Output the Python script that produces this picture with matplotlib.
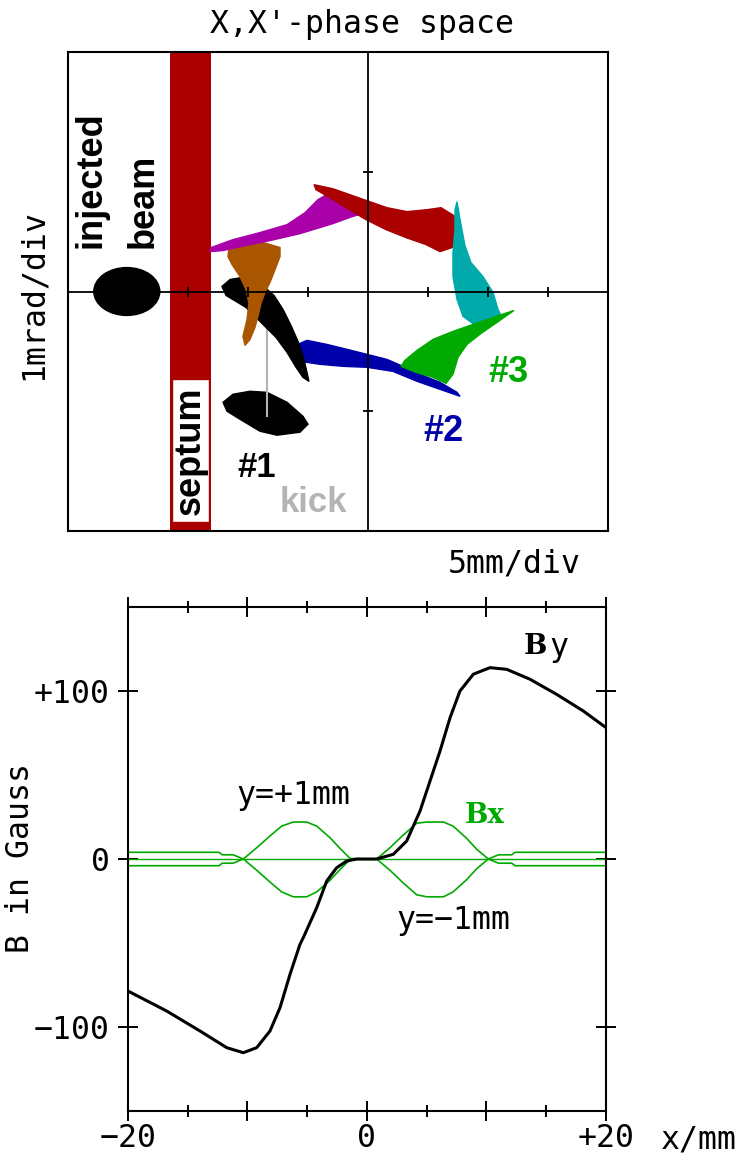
import numpy as np
import matplotlib.pyplot as plt
from matplotlib.patches import Polygon, Ellipse, Rectangle

W, H = 738, 1153

RED = "#aa0000"
MAGENTA = "#aa00aa"
BROWN = "#aa5500"
CYAN = "#00aaaa"
GREEN = "#00aa00"
BLUE = "#0000aa"
GRAY = "#b4b4b4"

# --- phase space: x in mm, x' in mrad ---
septum_x = (-16.5, -13.1)

injected_center = (-20.1, 0.0)
injected_size = (5.5, 0.40)

# turn 1 (before kick)
turn1_x = [-12.08, -11.25, -9.83, -8.42, -6.75, -5.42, -5.0, -5.67, -7.58, -9.0, -10.67, -11.75]
turn1_y = [-0.925, -0.858, -0.833, -0.842, -0.925, -1.042, -1.108, -1.175, -1.2, -1.167, -1.067, -1.0]

# after kick
kicked_x = [-12.17, -11.5, -10.5, -9.42, -8.58, -7.83, -7.08, -6.42, -5.83, -5.33, -4.92,
            -5.42, -6.0, -6.75, -7.67, -8.5, -9.33, -10.17, -11.0, -11.83]
kicked_y = [0.042, 0.1, 0.117, 0.083, 0.033, -0.033, -0.15, -0.283, -0.417, -0.567, -0.75,
            -0.717, -0.633, -0.508, -0.383, -0.3, -0.217, -0.133, -0.083, -0.033]

brown_x = [-11.58, -10.92, -9.83, -8.42, -7.33, -7.33, -7.75, -8.17, -8.58, -8.92, -9.17,
           -9.42, -9.83, -10.25, -10.42, -10.08, -9.92, -10.17, -10.67, -11.33, -11.67]
brown_y = [0.367, 0.417, 0.433, 0.4, 0.367, 0.292, 0.183, 0.075, -0.008, -0.1, -0.208,
           -0.3, -0.4, -0.45, -0.375, -0.233, -0.1, 0.017, 0.125, 0.225, 0.292]

magenta_x = [-13.08, -11.25, -9.0, -6.75, -5.25, -4.17, -3.17, -1.67, -0.5, -0.17,
             -1.33, -2.92, -5.67, -8.17, -10.25, -12.08, -13.17]
magenta_y = [0.367, 0.433, 0.492, 0.558, 0.658, 0.767, 0.825, 0.8, 0.733, 0.658,
             0.625, 0.567, 0.483, 0.425, 0.383, 0.342, 0.333]

red_x = [-4.5, -2.92, -1.5, -0.08, 1.58, 3.25, 4.92, 6.08, 7.17, 7.5, 7.25,
         6.0, 4.83, 3.17, 1.5, -0.17, -1.83, -3.17, -4.33]
red_y = [0.892, 0.858, 0.808, 0.758, 0.7, 0.667, 0.683, 0.7, 0.633, 0.517, 0.375,
         0.333, 0.392, 0.45, 0.517, 0.6, 0.7, 0.783, 0.85]

cyan_x = [7.42, 7.67, 8.08, 8.58, 9.58, 10.42, 10.83, 11.17, 10.17, 9.08, 7.92,
          7.42, 7.08, 7.08, 7.25, 7.25]
cyan_y = [0.75, 0.6, 0.383, 0.242, 0.125, -0.008, -0.15, -0.217, -0.292, -0.292, -0.208,
          -0.067, 0.125, 0.325, 0.517, 0.683]

green_x = [12.17, 10.42, 8.75, 7.08, 5.42, 4.08, 3.08, 2.75, 4.0, 5.42, 6.5,
           7.08, 7.5, 8.25, 9.42, 10.75]
green_y = [-0.158, -0.217, -0.275, -0.333, -0.4, -0.492, -0.575, -0.625, -0.675, -0.717, -0.767,
           -0.692, -0.55, -0.442, -0.35, -0.258]

blue_x = [-6.25, -5.08, -3.42, -1.75, -0.08, 1.58, 2.92, 4.33, 6.0, 7.42, 7.67,
          6.0, 4.08, 2.08, -0.08, -2.08, -4.0, -5.67, -6.17]
blue_y = [-0.458, -0.408, -0.442, -0.483, -0.525, -0.567, -0.625, -0.692, -0.758, -0.842, -0.875,
          -0.817, -0.75, -0.667, -0.633, -0.625, -0.608, -0.583, -0.525]

kick_x = [-8.42, -8.42]
kick_y = [-1.04, -0.15]

cross_xticks = [-20, -15, -10, -5, 5, 10, 15]
cross_yticks = [-1, 1]

# --- field: x in mm, B in Gauss ---
by_x = [-20, -16.76, -13.97, -11.74, -10.35, -9.23, -8.12, -7.28, -6.44, -5.61, -5.33,
        -4.21, -3.37, -2.54, -1.70, -0.86, 0.81, 2.2, 3.32, 4.44, 5.83, 6.11, 6.95,
        7.78, 8.90, 10.29, 11.69, 13.64, 15.87, 18.1, 20.0]
by_b = [-78.6, -90.5, -102.4, -112.3, -115.3, -112.3, -102.4, -88.5, -68.6, -50.8, -46.8,
        -29.0, -13.1, -5.2, -1.2, 0.0, 0.0, 2.8, 10.7, 28.6, 58.3, 64.3, 84.1,
        100.0, 110.0, 113.9, 112.9, 107.0, 98.0, 88.1, 78.2]

bx_x = [-20, -12.4, -12.1, -11.2, -10.35, -9.23, -8.12, -7.14, -6.17, -5.05, -4.21,
        -3.10, -2.26, -1.42, -0.5, 0.5, 0.81, 1.92, 3.04, 4.16, 5.0, 6.4, 7.2,
        8.34, 9.18, 10.15, 11.0, 12.1, 12.4, 20]
bx_plus = [-4, -4, -2.5, -2.5, 0, 6.7, 13.7, 19.6, 22, 22, 19.6,
           12.7, 6.3, 0.4, 0, 0, 0, 6.7, 14.3, 21.3, 22, 22, 19.6,
           12.3, 5.8, 0, -2.5, -2.5, -4, -4]
bx_minus = [4, 4, 2.5, 2.5, 0, -6.7, -13.7, -19.6, -22.5, -22.5, -19.6,
            -12.7, -6.3, -0.4, 0, 0, 0, -6.7, -14.3, -21.3, -22.5, -22.5, -19.6,
            -12.3, -5.8, 0, 2.5, 2.5, 4, 4]
bx0_x = [-20, 20]
bx0_b = [0, 0]

field_xticks = [-20, -10, 0, 10, 20]
field_xlabels = ["\u221220", "", "0", "", "+20"]
field_xminor = [-15, -5, 5, 15]
field_yticks = [-100, 0, 100]
field_ylabels = ["\u2212100", "0", "+100"]

MONO = 22.7
plt.rcParams["font.family"] = ["DejaVu Sans Mono"]

fig = plt.figure(figsize=(W / 100, H / 100), dpi=100)


def frac(px, py):
    return px / W, 1 - py / H


# phase space panel
ax1 = fig.add_axes([68 / W, 1 - 531 / H, 540 / W, 479 / H])
ax1.set_xlim(-25, 20)
ax1.set_ylim(-2, 2)
ax1.set_xticks([])
ax1.set_yticks([])
for s in ax1.spines.values():
    s.set_linewidth(1.5)

ax1.axvspan(*septum_x, color=RED, lw=0, zorder=1)
ax1.add_patch(Rectangle((-16.33, -1.925), 3.08, 1.192, fc="white", ec=RED, lw=1, zorder=2))
ax1.text(-14.79, -1.33, "septum", rotation=90, ha="center", va="center",
         fontsize=26, fontweight="bold", family="Liberation Sans", zorder=3)

ax1.add_patch(Ellipse(injected_center, *injected_size, fc="black", ec="black", lw=1, zorder=2.5))
ax1.add_patch(Polygon(np.column_stack([turn1_x, turn1_y]), closed=True,
                      fc="black", ec="black", lw=1, zorder=2.5))
ax1.plot(kick_x, kick_y, color=GRAY, lw=1.5, zorder=2.8)

bunches = [
    (blue_x, blue_y, BLUE),
    (kicked_x, kicked_y, "black"),
    (brown_x, brown_y, BROWN),
    (magenta_x, magenta_y, MAGENTA),
    (red_x, red_y, RED),
    (cyan_x, cyan_y, CYAN),
    (green_x, green_y, GREEN),
]
for i, (bx, by, c) in enumerate(bunches):
    ax1.add_patch(Polygon(np.column_stack([bx, by]), closed=True,
                          fc=c, ec=c, lw=1, zorder=3 + i * 0.01))

ax1.axhline(0, color="black", lw=1.3, zorder=6)
ax1.axvline(0, color="black", lw=1.3, zorder=6)
ax1.plot(cross_xticks, np.zeros(len(cross_xticks)), ls="none", marker="|",
         ms=7.5, mew=1.3, color="black", zorder=6)
ax1.plot(np.zeros(len(cross_yticks)), cross_yticks, ls="none", marker="_",
         ms=7.5, mew=1.3, color="black", zorder=6)

bold = dict(fontweight="bold", family="Liberation Sans", ha="left", va="baseline")
ax1.text(-22.33, 0.367, "injected", rotation=90, rotation_mode="anchor", fontsize=26, **bold)
ax1.text(-17.92, 0.367, "beam", rotation=90, rotation_mode="anchor", fontsize=26, **bold)
ax1.text(-10.92, -1.55, "#1", fontsize=25, color="black", **bold)
ax1.text(-7.33, -1.842, "kick", fontsize=25, color=GRAY, **bold)
ax1.text(4.58, -1.25, "#2", fontsize=26, color=BLUE, **bold)
ax1.text(10.0, -0.758, "#3", fontsize=26, color=GREEN, **bold)

fig.text(*frac(362, 33), "X,X'-phase space", ha="center", va="baseline", fontsize=MONO)
fig.text(*frac(33, 294), "1mrad/div", rotation=90, ha="center", va="center", fontsize=MONO)
fig.text(*frac(514, 573), "5mm/div", ha="center", va="baseline", fontsize=MONO)

# field panel
ax2 = fig.add_axes([128 / W, 1 - 1111 / H, 478 / W, 504 / H])
ax2.set_xlim(-20, 20)
ax2.set_ylim(-150, 150)
for s in ax2.spines.values():
    s.set_linewidth(1.5)

ax2.plot(bx0_x, bx0_b, color=GREEN, lw=1.0)
ax2.plot(bx_x, bx_plus, color=GREEN, lw=1.2)
ax2.plot(bx_x, bx_minus, color=GREEN, lw=1.2)
ax2.plot(by_x, by_b, color="black", lw=2.2)

ax2.set_xticks(field_xticks)
ax2.set_xticklabels(field_xlabels)
ax2.set_xticks(field_xminor, minor=True)
ax2.set_yticks(field_yticks)
ax2.set_yticklabels(field_ylabels)
ax2.tick_params(which="major", direction="inout", length=14, width=1.4,
                top=True, right=True, labelsize=MONO)
ax2.tick_params(which="minor", direction="inout", length=8.5, width=1.4, top=True)
ax2.tick_params(axis="x", which="major", pad=1.5)
ax2.tick_params(axis="y", which="major", pad=6)

ax2.text(13.1, 122, "B", family="DejaVu Serif", fontweight="bold", fontsize=20,
         ha="left", va="baseline")
ax2.text(15.3, 120.8, "y", fontsize=MONO, ha="left", va="baseline")
ax2.text(8.2, 21.4, "Bx", family="DejaVu Serif", fontweight="bold", fontsize=20,
         color=GREEN, ha="left", va="baseline")
ax2.text(-6.19, 32.7, "y=+1mm", ha="center", va="baseline", fontsize=MONO)
ax2.text(7.2, -41.7, "y=\u22121mm", ha="center", va="baseline", fontsize=MONO)

fig.text(*frac(21, 858), "B in Gauss", rotation=90, ha="center", va="center", fontsize=MONO)
fig.text(*frac(699, 1148), "x/mm", ha="center", va="baseline", fontsize=MONO)

fig.savefig("out.png", dpi=100)
